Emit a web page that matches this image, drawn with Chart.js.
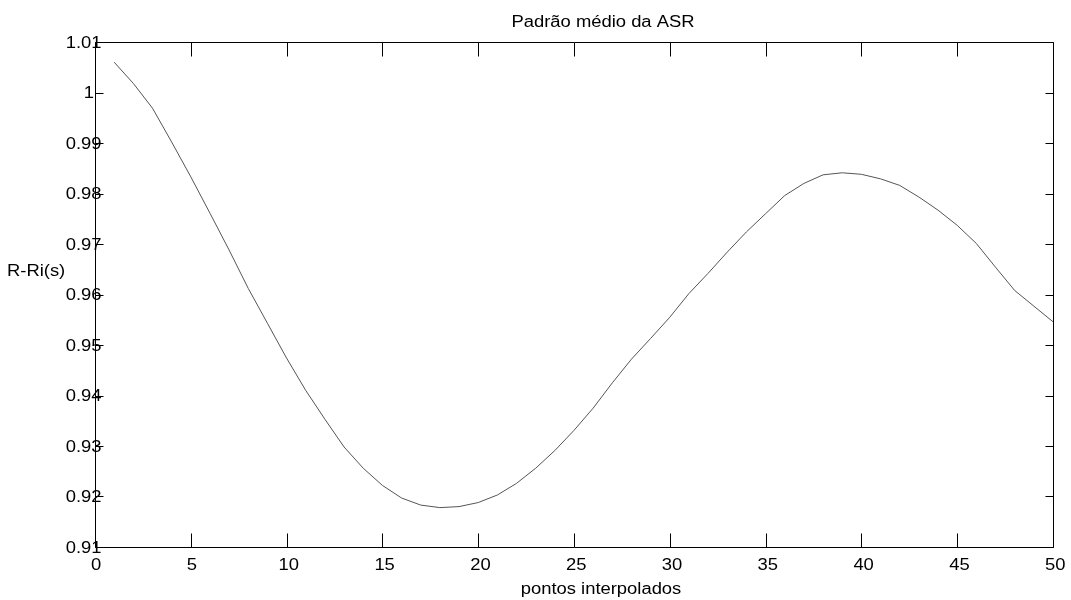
<!DOCTYPE html>
<html>
<head>
<meta charset="utf-8">
<script src="https://cdn.jsdelivr.net/npm/chart.js@4"></script>
<style>
  html, body { margin: 0; padding: 0; background: #fff; }
  #wrap { width: 1071px; height: 600px; }
</style>
</head>
<body>
<div id="wrap"><canvas id="asr" width="1071" height="600"></canvas></div>
<script>
// pontos interpolados 1..50
const xPoints = [1, 2, 3, 4, 5, 6, 7, 8, 9, 10,
  11, 12, 13, 14, 15, 16, 17, 18, 19, 20,
  21, 22, 23, 24, 25, 26, 27, 28, 29, 30,
  31, 32, 33, 34, 35, 36, 37, 38, 39, 40,
  41, 42, 43, 44, 45, 46, 47, 48, 49, 50];

// R-Ri(s)
const asrValues = [1.0060, 1.0018, 0.9969, 0.9902, 0.9833, 0.9761, 0.9688, 0.9612, 0.9543, 0.9474,
  0.9410, 0.9353, 0.9298, 0.9256, 0.9222, 0.9197, 0.9183, 0.9178, 0.9180, 0.9188,
  0.9203, 0.9226, 0.9256, 0.9291, 0.9331, 0.9375, 0.9425, 0.9472, 0.9513, 0.9555,
  0.9602, 0.9642, 0.9684, 0.9724, 0.9760, 0.9796, 0.9820, 0.9837, 0.9841, 0.9838,
  0.9829, 0.9816, 0.9793, 0.9767, 0.9737, 0.9701, 0.9654, 0.9608, 0.9577, 0.9546];

const xTicks = [0, 5, 10, 15, 20, 25, 30, 35, 40, 45, 50];
const yTicks = [0.91, 0.92, 0.93, 0.94, 0.95, 0.96, 0.97, 0.98, 0.99, 1, 1.01];
const yTickLabels = ["0.91", "0.92", "0.93", "0.94", "0.95", "0.96", "0.97", "0.98", "0.99", "1", "1.01"];

const titleText = "Padrão médio da ASR";
const xLabelText = "pontos interpolados";
const yLabelText = "R-Ri(s)";

const FONT = '16px "Liberation Sans", Arial, sans-serif';
const STRETCH = 1.15; // the figure's text is a bit wider than plain Arial

// text drawn left-aligned at (left, baseline), stretched horizontally
function wideText(ctx, txt, left, baseline) {
  ctx.save();
  ctx.translate(left, baseline);
  ctx.scale(STRETCH, 1);
  ctx.fillText(txt, 0, 0);
  ctx.restore();
}

// matlab-like box: frame on all sides, inward ticks, labels
const framePlugin = {
  id: "frame",
  afterDraw(chart) {
    const { ctx, chartArea: a, scales } = chart;
    const x = scales.x, y = scales.y;
    const L = Math.round(a.left) + 0.5, R = Math.round(a.right) + 0.5;
    const T = Math.round(a.top) + 0.5, B = Math.round(a.bottom) + 0.5;

    ctx.save();
    ctx.strokeStyle = "#000";
    ctx.lineWidth = 1;
    ctx.beginPath();
    ctx.rect(L, T, R - L, B - T);
    xTicks.forEach((v) => {
      const px = Math.round(x.getPixelForValue(v)) + 0.5;
      ctx.moveTo(px, B); ctx.lineTo(px, B - 14);
      ctx.moveTo(px, T); ctx.lineTo(px, T + 14);
    });
    yTicks.forEach((v) => {
      const py = Math.round(y.getPixelForValue(v)) + 0.5;
      ctx.moveTo(L, py); ctx.lineTo(L + 8, py);
      ctx.moveTo(R, py); ctx.lineTo(R - 8, py);
    });
    ctx.stroke();

    ctx.fillStyle = "#000";
    ctx.font = FONT;
    ctx.textAlign = "left";
    ctx.textBaseline = "alphabetic";

    xTicks.forEach((v) => {
      const lbl = String(v);
      const w0 = ctx.measureText(lbl).width;
      wideText(ctx, lbl, x.getPixelForValue(v) - 0.45 * w0, 570);
    });
    yTicks.forEach((v, i) => {
      const lbl = yTickLabels[i];
      const w0 = ctx.measureText(lbl).width;
      wideText(ctx, lbl, 91 - 0.81 * w0, y.getPixelForValue(v) + 5.8);
    });

    // title + axis labels
    let w = ctx.measureText(titleText).width * STRETCH;
    wideText(ctx, titleText, 603 - w / 2, 27);
    w = ctx.measureText(xLabelText).width * STRETCH;
    wideText(ctx, xLabelText, 601 - w / 2, 594);
    wideText(ctx, yLabelText, 7, 276);
    ctx.restore();
  }
};

new Chart(document.getElementById("asr"), {
  type: "line",
  data: {
    labels: xPoints,
    datasets: [{
      data: xPoints.map((v, i) => ({ x: v, y: asrValues[i] })),
      borderColor: "#555555",
      borderWidth: 1,
      pointRadius: 0,
      tension: 0,
      fill: false
    }]
  },
  options: {
    responsive: false,
    animation: false,
    devicePixelRatio: 1,
    layout: { padding: { top: 42, right: 18, left: 0, bottom: 0 } },
    plugins: {
      legend: { display: false },
      title: { display: false },
      tooltip: { enabled: false }
    },
    scales: {
      x: {
        type: "linear",
        min: 0,
        max: 50,
        grid: { display: false },
        border: { display: false },
        ticks: { display: false, stepSize: 5 },
        afterFit: (s) => { s.height = 53; }
      },
      y: {
        min: 0.91,
        max: 1.01,
        grid: { display: false },
        border: { display: false },
        ticks: { display: false, stepSize: 0.01 },
        afterFit: (s) => { s.width = 95; }
      }
    }
  },
  plugins: [framePlugin]
});
</script>
</body>
</html>
